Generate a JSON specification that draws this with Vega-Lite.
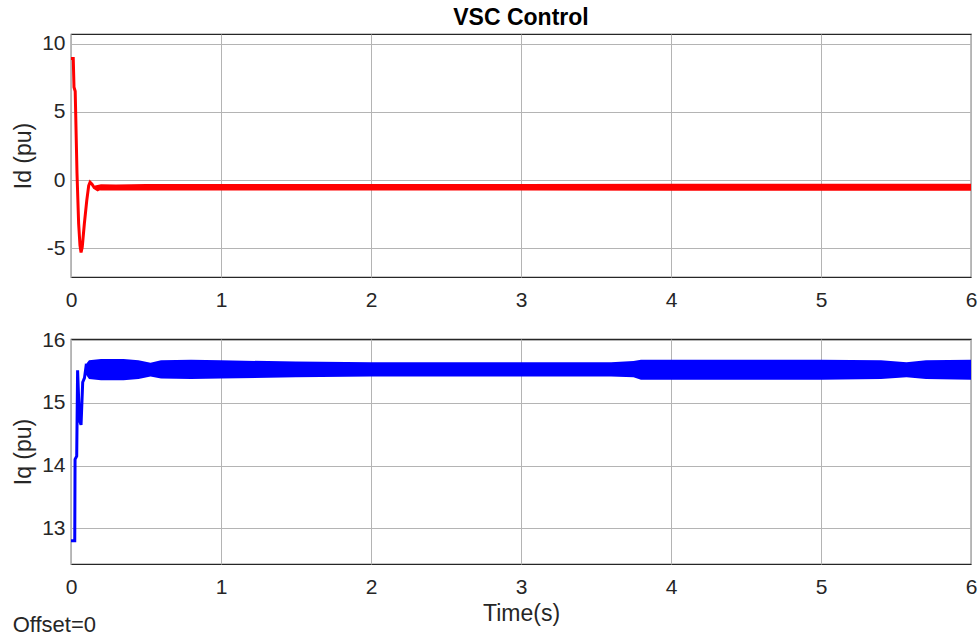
{
  "$schema": "https://vega.github.io/schema/vega-lite/v6.json",
  "padding": {"left": 12, "top": 5, "right": 5, "bottom": 2},
  "spacing": 17,
  "datasets": {
    "id_line": [
      {"t": 0, "v": 8.9}, {"t": 0.015, "v": 8.9}, {"t": 0.02, "v": 6.8}, {"t": 0.028, "v": 6.5},
      {"t": 0.04, "v": 0.5}, {"t": 0.051, "v": -3.2}, {"t": 0.06, "v": -4.8}, {"t": 0.067, "v": -5.3},
      {"t": 0.075, "v": -4.9}, {"t": 0.089, "v": -3.2}, {"t": 0.105, "v": -1.5}, {"t": 0.118, "v": -0.4},
      {"t": 0.127, "v": -0.15}, {"t": 0.14, "v": -0.3}, {"t": 0.155, "v": -0.55}, {"t": 0.178, "v": -0.7},
      {"t": 0.2, "v": -0.55}
    ],
    "id_band": [
      {"t": 0.16, "lo": -0.72, "hi": -0.4}, {"t": 0.2, "lo": -0.76, "hi": -0.3}, {"t": 0.3, "lo": -0.76, "hi": -0.32},
      {"t": 0.5, "lo": -0.77, "hi": -0.29}, {"t": 1.0, "lo": -0.77, "hi": -0.28}, {"t": 2.0, "lo": -0.77, "hi": -0.28},
      {"t": 3.0, "lo": -0.77, "hi": -0.29}, {"t": 4.0, "lo": -0.78, "hi": -0.27}, {"t": 5.0, "lo": -0.78, "hi": -0.27},
      {"t": 6.0, "lo": -0.78, "hi": -0.27}
    ],
    "iq_line": [
      {"t": 0, "v": 12.8}, {"t": 0.025, "v": 12.8}, {"t": 0.027, "v": 14.1}, {"t": 0.038, "v": 14.15},
      {"t": 0.044, "v": 15.52}, {"t": 0.052, "v": 15.0}, {"t": 0.06, "v": 14.7}, {"t": 0.067, "v": 14.65},
      {"t": 0.078, "v": 15.33}, {"t": 0.09, "v": 15.4}, {"t": 0.1, "v": 15.58}, {"t": 0.11, "v": 15.55}
    ],
    "iq_band": [
      {"t": 0.1, "lo": 15.45, "hi": 15.62}, {"t": 0.12, "lo": 15.38, "hi": 15.68}, {"t": 0.2, "lo": 15.36, "hi": 15.7},
      {"t": 0.35, "lo": 15.36, "hi": 15.7}, {"t": 0.45, "lo": 15.38, "hi": 15.68}, {"t": 0.53, "lo": 15.42, "hi": 15.64},
      {"t": 0.6, "lo": 15.39, "hi": 15.68}, {"t": 0.8, "lo": 15.38, "hi": 15.69}, {"t": 1.0, "lo": 15.39, "hi": 15.68},
      {"t": 1.5, "lo": 15.41, "hi": 15.66}, {"t": 2.0, "lo": 15.42, "hi": 15.65}, {"t": 2.5, "lo": 15.42, "hi": 15.65},
      {"t": 3.0, "lo": 15.42, "hi": 15.65}, {"t": 3.6, "lo": 15.42, "hi": 15.65}, {"t": 3.75, "lo": 15.41, "hi": 15.67},
      {"t": 3.8, "lo": 15.37, "hi": 15.69}, {"t": 4.5, "lo": 15.37, "hi": 15.69}, {"t": 5.0, "lo": 15.37, "hi": 15.69},
      {"t": 5.4, "lo": 15.38, "hi": 15.68}, {"t": 5.57, "lo": 15.41, "hi": 15.65}, {"t": 5.7, "lo": 15.38, "hi": 15.68},
      {"t": 6.0, "lo": 15.37, "hi": 15.69}
    ]
  },
  "config": {
    "font": "Liberation Sans",
    "view": {"stroke": "#262626", "strokeWidth": 1.2},
    "axis": {
      "grid": true, "gridColor": "#b4b4b4", "gridWidth": 1, "domain": false, "ticks": false,
      "labelFontSize": 21, "labelColor": "#262626", "labelFlush": false, "labelOverlap": false,
      "labelExpr": "datum.value < 0 ? '-' + abs(datum.value) : '' + datum.value",
      "titleFontSize": 23, "titleFontWeight": "normal", "titleColor": "#262626",
      "labelPadding": 6, "titlePadding": 6
    }
  },
  "vconcat": [
    {
      "width": 900,
      "height": 243,
      "title": {"text": "VSC Control", "fontSize": 23, "fontWeight": "bold", "anchor": "middle", "offset": 3, "color": "#000000"},
      "layer": [
        {
          "data": {"name": "id_band"},
          "mark": {"type": "area", "color": "#ff0000", "opacity": 1, "clip": true},
          "encoding": {
            "x": {"field": "t", "type": "quantitative", "scale": {"domain": [0, 6], "nice": false}, "axis": {"values": [0, 1, 2, 3, 4, 5, 6], "title": null, "labelPadding": 12}},
            "y": {"field": "lo", "type": "quantitative", "scale": {"domain": [-7.1, 10.7], "nice": false, "zero": false}, "axis": {"values": [-5, 0, 5, 10], "title": "Id (pu)"}},
            "y2": {"field": "hi"}
          }
        },
        {
          "data": {"name": "id_line"},
          "mark": {"type": "line", "color": "#ff0000", "strokeWidth": 3, "clip": true},
          "encoding": {
            "x": {"field": "t", "type": "quantitative"},
            "y": {"field": "v", "type": "quantitative"}
          }
        }
      ]
    },
    {
      "width": 900,
      "height": 225,
      "title": {"text": "Offset=0", "orient": "bottom", "anchor": "start", "frame": "bounds", "fontSize": 22, "fontWeight": "normal", "color": "#262626", "offset": -10},
      "layer": [
        {
          "data": {"name": "iq_band"},
          "mark": {"type": "area", "color": "#0000ff", "opacity": 1, "clip": true},
          "encoding": {
            "x": {"field": "t", "type": "quantitative", "scale": {"domain": [0, 6], "nice": false}, "axis": {"values": [0, 1, 2, 3, 4, 5, 6], "title": "Time(s)", "labelPadding": 12, "titlePadding": 5}},
            "y": {"field": "lo", "type": "quantitative", "scale": {"domain": [12.43, 16.02], "nice": false, "zero": false}, "axis": {"values": [13, 14, 15, 16], "title": "Iq (pu)"}},
            "y2": {"field": "hi"}
          }
        },
        {
          "data": {"name": "iq_line"},
          "mark": {"type": "line", "color": "#0000ff", "strokeWidth": 3, "clip": true},
          "encoding": {
            "x": {"field": "t", "type": "quantitative"},
            "y": {"field": "v", "type": "quantitative"}
          }
        }
      ]
    }
  ]
}
